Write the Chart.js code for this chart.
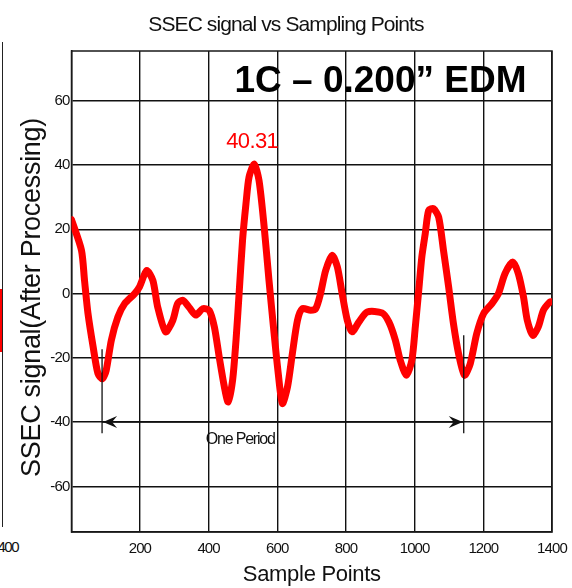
<!DOCTYPE html>
<html lang="en">
<head>
    <meta charset="UTF-8">
    <title>SSEC signal vs Sampling Points</title>
    <style>
        body { margin: 0; padding: 0; background-color: #fff; }
        .wrap { position: relative; width: 572px; height: 588px; overflow: hidden; }
        canvas { position: absolute; left: 0; top: 0; }
        /* edge of the neighbouring panel */
        .side-frame { position: absolute; left: 2px; top: 42px; width: 0; height: 485px; border-left: 1.5px solid #222; }
        .side-trace { position: absolute; left: 0; top: 289px; width: 2px; height: 63px; background-color: #ff0000; }
        .side-tick { position: absolute; right: 554px; top: 538px; font: 15px Arial, "Liberation Sans", sans-serif; letter-spacing: -1.5px; color: #111; }
    </style>
    <script src="https://cdn.jsdelivr.net/npm/chart.js"></script>
</head>
<body>

<div class="wrap">
    <div class="side-frame"></div>
    <div class="side-trace"></div>
    <div class="side-tick">1400</div>
    <canvas id="ssecChart" width="572" height="588"></canvas>
</div>

<script>
    // Sample index and processed SSEC signal
    const samplePoints = [
        1, 30, 39, 49, 64, 78, 91, 102, 117, 136, 156, 185, 199, 220, 238, 252, 275, 296, 310, 325,
        345, 363, 383, 402, 417, 431, 446, 457, 470, 480, 489, 499, 509, 518, 533, 547, 562, 576, 589, 603,
        615, 630, 644, 659, 673, 697, 712, 726, 741, 760, 775, 789, 804, 818, 838, 862, 905, 925, 944, 958,
        976, 992, 1002, 1012, 1021, 1031, 1041, 1055, 1070, 1084, 1099, 1113, 1128, 1145, 1162, 1181, 1201, 1225, 1244, 1263,
        1286, 1302, 1317, 1328, 1344, 1360, 1375, 1394, 1400
    ];
    const ssecSignal = [
        23, 13.5, 4, -6.2, -16.6, -24.9, -26.5, -23.9, -14.5, -7.3, -3.1, 0, 2.1, 7.2, 4.1, -4.2, -11.9, -8.3, -3.1, -2.1,
        -4.5, -6.7, -4.7, -5.2, -10.4, -19.7, -29, -33.7, -27, -14.5, 0, 16.6, 28, 36.3, 40.31, 35.2, 20.7, 4.1, -10.4, -24.9,
        -34.2, -29, -18.7, -8.3, -4.7, -5.2, -4.7, 0, 7.2, 11.9, 8.3, 0, -8.3, -11.9, -8.8, -5.7, -6, -8.8, -14.5, -20.7,
        -25.4, -20.7, -10.4, 1, 11.4, 18.7, 25.9, 26.4, 23.8, 13.5, 2.1, -9.3, -18.7, -25.4, -21.8, -12.4, -6.2, -3.1, 0, 6.2,
        9.8, 6.2, -1, -8.3, -13, -10.4, -5.2, -2.6, -2.5
    ];
    const xTicks = [200, 400, 600, 800, 1000, 1200, 1400];
    const yTicks = [-60, -40, -20, 0, 20, 40, 60];

    // one period marked between the two troughs
    const periodStart = 90;
    const periodEnd = 1143;
    const periodLevel = -40;

    const FONT = 'Arial, "Liberation Sans", sans-serif';

    function drawText(ctx, str, x, y, opts) {
        ctx.save();
        ctx.font = opts.font;
        ctx.letterSpacing = (opts.spacing || 0) + 'px';
        ctx.fillStyle = opts.color || '#111';
        ctx.textAlign = opts.align || 'center';
        ctx.textBaseline = opts.baseline || 'middle';
        ctx.translate(x, y);
        if (opts.rotate) ctx.rotate(opts.rotate);
        ctx.fillText(str, 0, 0);
        ctx.restore();
    }

    // frame round the plot area, drawn under the trace
    const frame = {
        id: 'frame',
        beforeDatasetsDraw(chart) {
            const { ctx, chartArea: a } = chart;
            ctx.save();
            ctx.strokeStyle = '#1a1a1a';
            ctx.lineWidth = 1.5;
            ctx.strokeRect(a.left, a.top, a.right - a.left, a.bottom - a.top);
            ctx.restore();
        }
    };

    // texts, tick labels and the period marker
    const labels = {
        id: 'labels',
        afterDatasetsDraw(chart) {
            const { ctx, chartArea: a } = chart;
            const xs = chart.scales.x, ys = chart.scales.y;

            // period marker
            const x0 = xs.getPixelForValue(periodStart), x1 = xs.getPixelForValue(periodEnd);
            const yl = ys.getPixelForValue(periodLevel);
            ctx.save();
            ctx.strokeStyle = '#111';
            ctx.lineWidth = 1.3;
            ctx.beginPath();
            ctx.moveTo(x0, ys.getPixelForValue(-17.3));
            ctx.lineTo(x0, ys.getPixelForValue(-43.5));
            ctx.moveTo(x1, ys.getPixelForValue(-13));
            ctx.lineTo(x1, ys.getPixelForValue(-43.5));
            ctx.moveTo(x0, yl);
            ctx.lineTo(x1, yl);
            ctx.stroke();
            ctx.fillStyle = '#111';
            [[x0, 1], [x1, -1]].forEach(([px, d]) => {
                ctx.beginPath();
                ctx.moveTo(px + d, yl);
                ctx.lineTo(px + d * 15, yl - 6);
                ctx.lineTo(px + d * 10, yl);
                ctx.lineTo(px + d * 15, yl + 6);
                ctx.closePath();
                ctx.fill();
            });
            ctx.restore();
            drawText(ctx, 'One Period', xs.getPixelForValue(392), ys.getPixelForValue(-45.5),
                { font: '16px ' + FONT, spacing: -1.2, align: 'left' });

            // peak value
            const peak = Math.max(...ssecSignal);
            const peakX = samplePoints[ssecSignal.indexOf(peak)];
            drawText(ctx, peak.toFixed(2), xs.getPixelForValue(peakX) - 2, ys.getPixelForValue(peak) - 22,
                { font: '22px ' + FONT, spacing: -0.6, color: '#ff0000' });

            // specimen tag
            drawText(ctx, '1C \u2013 0.200\u201D EDM', a.left + 163, a.top + 41,
                { font: 'bold 37px ' + FONT, align: 'left', baseline: 'alphabetic', color: '#000' });

            // tick labels
            yTicks.forEach(v => drawText(ctx, String(v), a.left - 2, ys.getPixelForValue(v),
                { font: '15px ' + FONT, spacing: -0.8, align: 'right' }));
            xTicks.forEach(v => drawText(ctx, String(v), xs.getPixelForValue(v), a.bottom + 17,
                { font: '15px ' + FONT, spacing: -0.9 }));

            // titles
            drawText(ctx, 'SSEC signal vs Sampling Points', chart.width / 2, 25,
                { font: '21px ' + FONT, spacing: -0.9 });
            drawText(ctx, 'Sample Points', (a.left + a.right) / 2, 575,
                { font: '22px ' + FONT, spacing: -0.3 });
            drawText(ctx, 'SSEC signal(After Processing)', 33, (a.top + a.bottom) / 2 + 6,
                { font: '27px ' + FONT, spacing: -0.3, rotate: -Math.PI / 2 });
        }
    };

    const ctx = document.getElementById('ssecChart').getContext('2d');
    const ssecChart = new Chart(ctx, {
        type: 'line',
        data: {
            datasets: [{
                label: 'SSEC signal',
                data: samplePoints.map((x, i) => ({ x: x, y: ssecSignal[i] })),
                borderColor: '#ff0000',
                borderWidth: 7,
                borderJoinStyle: 'round',
                borderCapStyle: 'round',
                pointRadius: 0,
                tension: 0.25,
                fill: false
            }]
        },
        options: {
            responsive: false,
            animation: false,
            layout: { padding: { top: 51, right: 20, left: 0, bottom: 0 } },
            plugins: {
                legend: { display: false },
                title: { display: false },
                tooltip: { enabled: false }
            },
            scales: {
                x: {
                    type: 'linear',
                    min: 1,
                    max: 1400,
                    afterBuildTicks: scale => { scale.ticks = xTicks.map(v => ({ value: v })); },
                    afterFit: scale => { scale.height = 56; },
                    ticks: { display: false },
                    grid: { color: '#111', lineWidth: 1.4, drawTicks: false },
                    border: { display: true, color: '#111', width: 1.5 }
                },
                y: {
                    type: 'linear',
                    min: -74.2,
                    max: 75.5,
                    afterBuildTicks: scale => { scale.ticks = yTicks.map(v => ({ value: v })); },
                    afterFit: scale => { scale.width = 71.5; },
                    ticks: { display: false },
                    grid: { color: '#111', lineWidth: 1.4, drawTicks: false },
                    border: { display: true, color: '#111', width: 1.5 }
                }
            }
        },
        plugins: [frame, labels]
    });
</script>

</body>
</html>
